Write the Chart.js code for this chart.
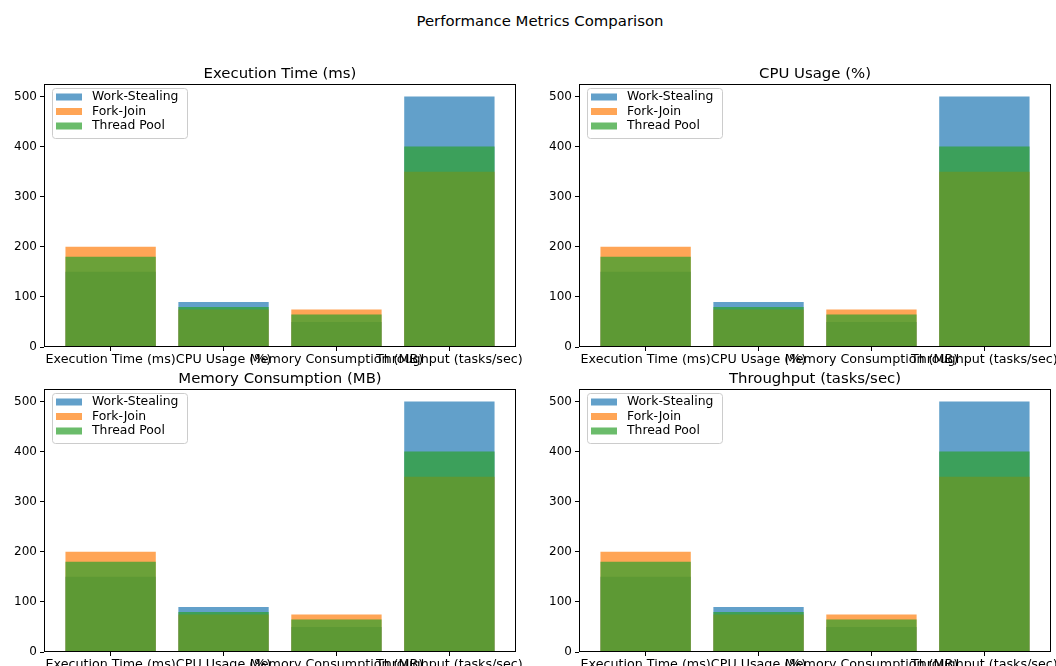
<!DOCTYPE html>
<html>
<head>
<meta charset="utf-8">
<script src="https://cdn.jsdelivr.net/npm/chart.js@4.4.1/dist/chart.umd.min.js"></script>
<style>
  body { margin: 0; width: 1056px; height: 666px; overflow: hidden; background: #fff; position: relative; font-family: 'DejaVu Sans', sans-serif; }
  #suptitle { position: absolute; left: 0; width: 1080px; top: 12px; line-height: 18px; text-align: center; font-size: 14.9px; color: #000; }
  canvas { position: absolute; }
</style>
</head>
<body>
<div id="suptitle">Performance Metrics Comparison</div>
<canvas id="c0"></canvas>
<canvas id="c1"></canvas>
<canvas id="c2"></canvas>
<canvas id="c3"></canvas>
<script>
// datos
const categories = ['Execution Time (ms)', 'CPU Usage (%)', 'Memory Consumption (MB)', 'Throughput (tasks/sec)'];
const panelTitles = ['Execution Time (ms)', 'CPU Usage (%)', 'Memory Consumption (MB)', 'Throughput (tasks/sec)'];
const seriesNames = ['Work-Stealing', 'Fork-Join', 'Thread Pool'];
const workStealing = [150, 90, 50, 500];
const forkJoin = [200, 75, 75, 350];
const threadPool = [180, 80, 65, 400];
const yTicks = [0, 100, 200, 300, 400, 500];

const colors = ['rgba(31,119,180,0.7)', 'rgba(255,127,14,0.7)', 'rgba(44,160,44,0.7)'];

// caja de cada eje (izq, arriba, der, abajo) en la pagina
const boxes = [
    [44, 84, 516, 347],
    [579, 84, 1051, 347],
    [44, 389, 516, 652],
    [579, 389, 1051, 652]
];

const PAD_TOP = 40, PAD_RIGHT = 14, Y_W = 44, X_H = 20;

// marco, titulo y leyenda al estilo matplotlib
const mplFrame = {
    id: 'mplFrame',
    afterDraw(chart, args, opts) {
        const { ctx, chartArea: a } = chart;
        ctx.save();
        // ejes (4 lados)
        ctx.strokeStyle = '#000';
        ctx.lineWidth = 1;
        ctx.strokeRect(Math.round(a.left) + 0.5, Math.round(a.top) + 0.5, Math.round(a.right - a.left) - 1, Math.round(a.bottom - a.top) - 1);
        // titulo
        ctx.fillStyle = '#000';
        ctx.font = '14.9px "DejaVu Sans"';
        ctx.textAlign = 'center';
        ctx.textBaseline = 'middle';
        ctx.fillText(opts.title, (a.left + a.right) / 2, a.top - 10);
        // leyenda
        const lx = a.left + 8, ly = a.top + 4;
        ctx.beginPath();
        ctx.roundRect(lx + 0.5, ly + 0.5, 135, 50, 3);
        ctx.fillStyle = 'rgba(255,255,255,0.8)';
        ctx.fill();
        ctx.strokeStyle = '#cccccc';
        ctx.stroke();
        ctx.font = '12.4px "DejaVu Sans"';
        ctx.textAlign = 'left';
        chart.data.datasets.forEach((ds, i) => {
            const y = ly + 9 + i * 14.5;
            ctx.fillStyle = ds.backgroundColor;
            ctx.fillRect(lx + 4, y - 3.5, 26, 7);
            ctx.fillStyle = '#000';
            ctx.fillText(ds.label, lx + 40, y);
        });
        ctx.restore();
    }
};

function makePanel(idx) {
    const [L, T, R, B] = boxes[idx];
    const canvas = document.getElementById('c' + idx);
    canvas.width = R - L + Y_W + PAD_RIGHT;
    canvas.height = B - T + PAD_TOP + X_H;
    canvas.style.left = (L - Y_W) + 'px';
    canvas.style.top = (T - PAD_TOP) + 'px';

    const series = [workStealing, forkJoin, threadPool];
    const datasets = series.map((vals, s) => ({
        label: seriesNames[s],
        data: vals.map((v, i) => ({ x: i, y: v })),
        backgroundColor: colors[s],
        borderWidth: 0,
        grouped: false,
        barPercentage: 0.8,
        categoryPercentage: 1,
        order: 3 - s // Thread Pool encima
    }));

    return new Chart(canvas.getContext('2d'), {
        type: 'bar',
        data: { datasets: datasets },
        plugins: [mplFrame],
        options: {
            responsive: false,
            animation: false,
            devicePixelRatio: 1,
            layout: { padding: { top: PAD_TOP, right: PAD_RIGHT, left: 0, bottom: 0 } },
            plugins: {
                legend: { display: false },
                tooltip: { enabled: false },
                mplFrame: { title: panelTitles[idx] }
            },
            scales: {
                x: {
                    type: 'linear',
                    min: -0.59,
                    max: 3.59,
                    offset: false,
                    border: { display: false },
                    grid: { display: true, offset: false, drawOnChartArea: false, drawTicks: true, tickLength: 4, color: '#000' },
                    afterBuildTicks: (axis) => { axis.ticks = categories.map((c, i) => ({ value: i })); },
                    afterFit: (axis) => { axis.height = X_H; },
                    ticks: {
                        autoSkip: false,
                        maxRotation: 0,
                        minRotation: 0,
                        padding: 1,
                        color: '#000',
                        font: { family: 'DejaVu Sans', size: 12.7 },
                        callback: (v) => categories[v]
                    }
                },
                y: {
                    type: 'linear',
                    min: 0,
                    max: 525,
                    border: { display: false },
                    grid: { display: true, drawOnChartArea: false, drawTicks: true, tickLength: 4, color: '#000' },
                    afterBuildTicks: (axis) => { axis.ticks = yTicks.map(v => ({ value: v })); },
                    afterFit: (axis) => { axis.width = Y_W; },
                    ticks: {
                        padding: 3,
                        color: '#000',
                        font: { family: 'DejaVu Sans', size: 12 }
                    }
                }
            }
        }
    });
}

for (let i = 0; i < 4; i++) makePanel(i);
</script>
</body>
</html>
